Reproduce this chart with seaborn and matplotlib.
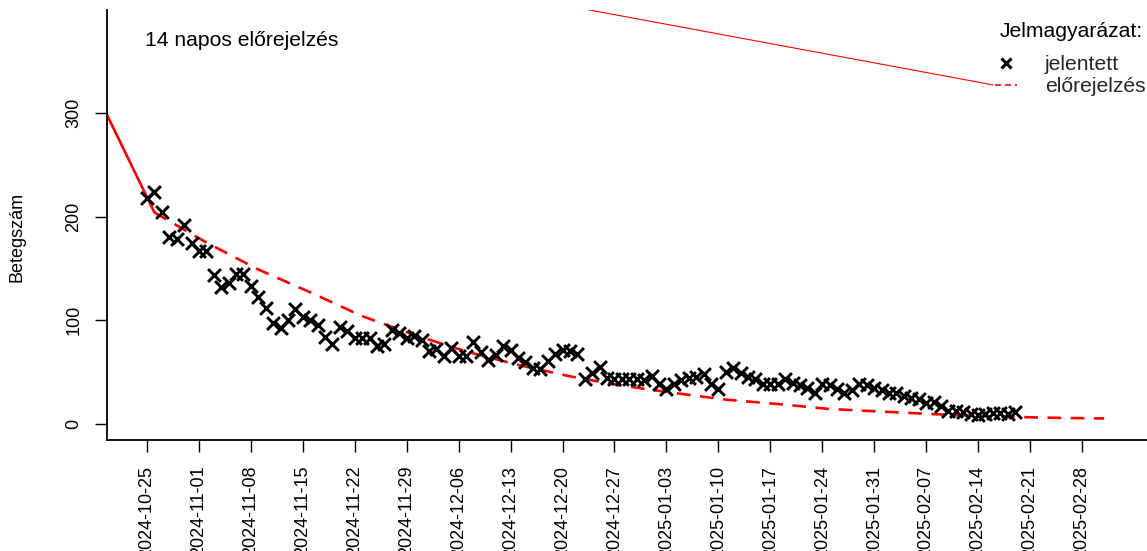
import matplotlib
matplotlib.use("Agg")
import matplotlib.pyplot as plt
import matplotlib.dates as mdates
from matplotlib.lines import Line2D
import seaborn as sns
import pandas as pd

# ---------------- data ----------------
obs_oct_nov = [218, 224, 204, 180, 178, 192, 175, 167, 167, 144, 132, 136, 145, 145, 133,
               122, 112, 97, 93, 100, 111, 103, 100, 95, 84, 77, 94, 90, 83, 83]          # 2024-10-25 .. 11-23
obs_nov_dec = [83, 75, 77, 91, 88, 83, 85, 81, 70, 72, 66, 73, 66, 66, 79,
               69, 62, 67, 75, 71, 64, 60, 54, 53, 61, 68, 71, 70, 68, 43]               # 2024-11-24 .. 12-23
obs_dec_jan = [49, 55, 44, 43, 43, 43, 43, 42, 46, 39, 34, 39, 42, 44, 45,
               48, 39, 34, 50, 54, 49, 45, 43, 39, 39, 39, 43, 40, 38, 35]               # 2024-12-24 .. 2025-01-22
obs_jan_feb = [30, 39, 38, 34, 30, 33, 39, 38, 35, 33, 30, 30, 27, 25, 24,
               20, 21, 17, 13, 13, 12, 10, 9, 10, 11, 11, 10, 12]                        # 2025-01-23 .. 02-19
obs_start = "2024-10-25"
obs_end = "2025-02-19"

fit_dates = ["2024-10-19", "2024-10-26"]
fit_values = [307, 204]

fc_dates = ["2024-10-26", "2024-11-02", "2024-11-09", "2024-11-16", "2024-11-23", "2024-11-30",
            "2024-12-07", "2024-12-14", "2024-12-21", "2024-12-28", "2025-01-04", "2025-01-11",
            "2025-01-18", "2025-01-25", "2025-02-01", "2025-02-08", "2025-02-15", "2025-02-22",
            "2025-03-01", "2025-03-03"]
fc_values = [204, 175, 149, 127, 104, 86, 70, 57, 46, 37, 30, 23.5, 19.3, 14.5, 12, 9.5, 7.7,
             6.3, 5.5, 5.4]

stray_dates = ["2024-12-14", "2025-02-16"]
stray_values = [412, 327]

tick_dates = ["2024-10-25", "2024-11-01", "2024-11-08", "2024-11-15", "2024-11-22", "2024-11-29",
              "2024-12-06", "2024-12-13", "2024-12-20", "2024-12-27", "2025-01-03", "2025-01-10",
              "2025-01-17", "2025-01-24", "2025-01-31", "2025-02-07", "2025-02-14", "2025-02-21",
              "2025-02-28"]
y_ticks = [0, 100, 200, 300]

title_text = "14 napos előrejelzés"
y_label = "Betegszám"
legend_title = "Jelmagyarázat:"
legend_labels = ["jelentett", "előrejelzés"]

# ---------------- frames ----------------
obs_df = pd.DataFrame({
    "date": pd.date_range(obs_start, obs_end, freq="D"),
    "value": obs_oct_nov + obs_nov_dec + obs_dec_jan + obs_jan_feb,
})
fit_df = pd.DataFrame({"date": pd.to_datetime(fit_dates), "value": fit_values})
fc_df = pd.DataFrame({"date": pd.to_datetime(fc_dates), "value": fc_values})
stray_df = pd.DataFrame({"date": pd.to_datetime(stray_dates), "value": stray_values})

# ---------------- style ----------------
sns.set_style("ticks")
plt.rcParams["font.family"] = ["Liberation Sans", "DejaVu Sans"]
plt.rcParams["font.size"] = 13

W, H = 1147, 551
fig = plt.figure(figsize=(W / 100, H / 100), dpi=100)
ax = fig.add_axes([107 / W, 1 - 440 / H, 1 - 107 / W, (440 - 10) / H])

sns.lineplot(data=fit_df, x="date", y="value", color="red", linewidth=1.9, ax=ax)
sns.lineplot(data=fc_df, x="date", y="value", color="red", linewidth=1.9, ax=ax)
ax.lines[-1].set_linestyle((0, (5.2, 3.6)))
sns.lineplot(data=stray_df, x="date", y="value", color="red", linewidth=0.8, ax=ax)
sns.scatterplot(data=obs_df, x="date", y="value", marker="x", color="black", s=85,
                linewidth=2.1, ax=ax, zorder=3)

# ---------------- axes ----------------
d0 = mdates.date2num(pd.Timestamp(obs_start))
ax.set_xlim(d0 - 5.39, d0 + 134.77)
ax.set_ylim(-15.4, 399.2)

ax.set_xticks(pd.to_datetime(tick_dates))
ax.set_xticklabels(tick_dates, rotation=90, ha="center", va="top")
ax.set_yticks(y_ticks)
ax.set_yticklabels([str(v) for v in y_ticks], rotation=90, va="center")

ax.tick_params(axis="both", direction="out", length=8.8, width=1.0, color="black",
               labelsize=13, labelcolor="black", bottom=True, left=True)
ax.tick_params(axis="x", pad=9.8)
ax.tick_params(axis="y", pad=9)

for side in ["top", "right"]:
    ax.spines[side].set_visible(False)
for side in ["left", "bottom"]:
    ax.spines[side].set_color("black")
    ax.spines[side].set_linewidth(1.3)

ax.set_xlabel("")
ax.set_ylabel(y_label, fontsize=13, color="black")
ax.yaxis.set_label_coords(-0.0779, 0.472)

ax.text((145 - 107) / 1040, (440 - 40) / 430, title_text, transform=ax.transAxes,
        ha="left", va="center", fontsize=15.2, color="black")

# ---------------- legend ----------------
fig.text(1000 / W, 1 - 31.7 / H, legend_title, ha="left", va="center", fontsize=15.2,
         color="black")
handles = [
    Line2D([], [], linestyle="none", marker="x", color="black", markersize=7, markeredgewidth=2.2),
    Line2D([], [], color="red", linewidth=1.2, linestyle=(0, (3.5, 2.5))),
]
leg = fig.legend(handles, legend_labels, loc="upper left",
                 bbox_to_anchor=(995 / W, 1 - 55 / H), bbox_transform=fig.transFigure,
                 frameon=False, borderpad=0, borderaxespad=0, handlelength=1.06,
                 handletextpad=1.3, labelspacing=0.14, fontsize=15.2)

fig.savefig("out.png", dpi=100)
